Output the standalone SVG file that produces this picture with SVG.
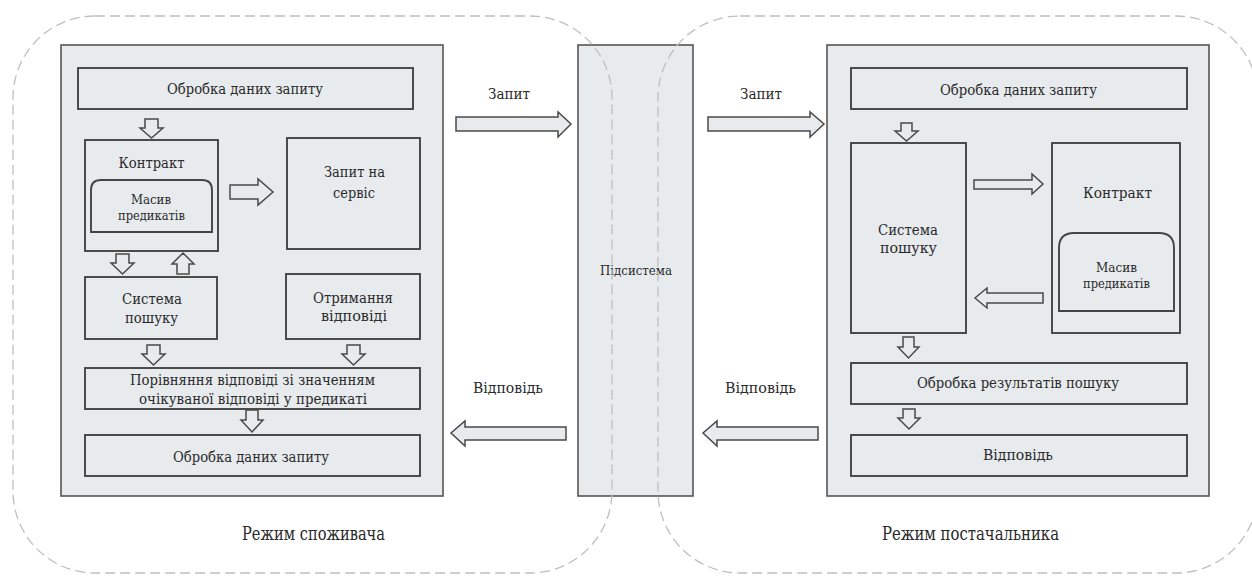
<svg xmlns="http://www.w3.org/2000/svg" width="1252" height="576" viewBox="0 0 1252 576" font-family="'DejaVu Serif', 'Liberation Serif', serif">
<style>
.panel{fill:#e8ebee;stroke:#555;stroke-width:1.6}
.box{fill:#e8ebee;stroke:#444;stroke-width:1.9}
.arr{fill:#e8ebee;stroke:#4a4a4a;stroke-width:1.5;stroke-linejoin:miter}
.region{fill:none;stroke:#bfbfbf;stroke-width:1.3;stroke-dasharray:10 5}
text{font-family:'DejaVu Serif','Liberation Serif',serif;fill:#2a2a2a;text-anchor:middle;font-size:15px}
.sm{font-size:13px}
.lg{font-size:18px}
</style>
<rect width="1252" height="576" fill="#ffffff"/>

<g id="consumer-panel">
<rect class="panel" x="61" y="45" width="382" height="451"/>
</g>
<g id="subsystem">
<rect class="panel" x="578" y="45" width="115" height="451"/>
<text class="sm" x="636" y="275" textLength="72" lengthAdjust="spacingAndGlyphs">Підсистема</text>
</g>
<g id="provider-panel">
<rect class="panel" x="827" y="45" width="382" height="451"/>
</g>

<g id="c-request-data">
<rect class="box" x="78" y="68" width="335" height="41"/>
<text x="245" y="94" textLength="156" lengthAdjust="spacingAndGlyphs">Обробка даних запиту</text>
</g>
<g id="c-contract">
<rect class="box" x="85" y="140" width="133" height="111"/>
<text x="151.5" y="168" textLength="66" lengthAdjust="spacingAndGlyphs">Контракт</text>
</g>
<g id="c-predicates">
<path class="box" d="M91,232 V190 Q91,180 101,180 H202 Q212,180 212,190 V232 Z"/>
<text class="sm" x="151" y="204" textLength="40" lengthAdjust="spacingAndGlyphs">Масив</text>
<text class="sm" x="151.5" y="220" textLength="67" lengthAdjust="spacingAndGlyphs">предикатів</text>
</g>
<g id="c-service-request">
<rect class="box" x="287" y="138" width="133" height="111"/>
<text x="354.5" y="177" textLength="61" lengthAdjust="spacingAndGlyphs">Запит на</text>
<text x="354" y="198" textLength="42" lengthAdjust="spacingAndGlyphs">сервіс</text>
</g>
<g id="c-search">
<rect class="box" x="85" y="277" width="132" height="62"/>
<text x="152" y="304" textLength="60" lengthAdjust="spacingAndGlyphs">Система</text>
<text x="151.5" y="323" textLength="53" lengthAdjust="spacingAndGlyphs">пошуку</text>
</g>
<g id="c-receive">
<rect class="box" x="286" y="274" width="134" height="65"/>
<text x="353" y="303" textLength="80" lengthAdjust="spacingAndGlyphs">Отримання</text>
<text x="354" y="321" textLength="66" lengthAdjust="spacingAndGlyphs">відповіді</text>
</g>
<g id="c-compare">
<rect class="box" x="85" y="368" width="335" height="41"/>
<text x="252.5" y="385" textLength="245" lengthAdjust="spacingAndGlyphs">Порівняння відповіді зі значенням</text>
<text x="253" y="404" textLength="228" lengthAdjust="spacingAndGlyphs">очікуваної відповіді у предикаті</text>
</g>
<g id="c-request-data-2">
<rect class="box" x="85" y="435" width="335" height="41"/>
<text x="251" y="462" textLength="156" lengthAdjust="spacingAndGlyphs">Обробка даних запиту</text>
</g>

<g id="p-request-data">
<rect class="box" x="851" y="68" width="336" height="41"/>
<text x="1018.5" y="95" textLength="157" lengthAdjust="spacingAndGlyphs">Обробка даних запиту</text>
</g>
<g id="p-search">
<rect class="box" x="851" y="143" width="115" height="190"/>
<text x="908" y="235" textLength="60" lengthAdjust="spacingAndGlyphs">Система</text>
<text x="908.5" y="253" textLength="57" lengthAdjust="spacingAndGlyphs">пошуку</text>
</g>
<g id="p-contract">
<rect class="box" x="1052" y="143" width="128" height="190"/>
<text x="1117.5" y="198" textLength="69" lengthAdjust="spacingAndGlyphs">Контракт</text>
</g>
<g id="p-predicates">
<path class="box" d="M1059,311 V248 Q1059,233 1074,233 H1159 Q1174,233 1174,248 V311 Z"/>
<text class="sm" x="1116.5" y="272" textLength="41" lengthAdjust="spacingAndGlyphs">Масив</text>
<text class="sm" x="1116.5" y="288" textLength="67" lengthAdjust="spacingAndGlyphs">предикатів</text>
</g>
<g id="p-results">
<rect class="box" x="851" y="363" width="336" height="41"/>
<text x="1018" y="388" textLength="202" lengthAdjust="spacingAndGlyphs">Обробка результатів пошуку</text>
</g>
<g id="p-response">
<rect class="box" x="851" y="435" width="336" height="41"/>
<text x="1018" y="460" textLength="70" lengthAdjust="spacingAndGlyphs">Відповідь</text>
</g>

<g id="connectors">
<polygon class="arr" points="456,117 558,117 558,112 571,124 558,137 558,131 456,131"/>
<polygon class="arr" points="708,117 810,117 810,112 824,124 810,137 810,131 708,131"/>
<polygon class="arr" points="566,427 465,427 465,421 451,433 465,446 465,440 566,440"/>
<polygon class="arr" points="818,427 717,427 717,421 703,433 717,446 717,440 818,440"/>
<polygon class="arr" points="230,185 258,185 258,179 273,192 258,205 258,199 230,199"/>
<polygon class="arr" points="145,119 158,119 158,128 163,128 151.5,138 140,128 145,128"/>
<polygon class="arr" points="116,254 129,254 129,263 134,263 122.5,274 111,263 116,263"/>
<polygon class="arr" points="177,274 189,274 189,264 194,264 183,253 172,264 177,264"/>
<polygon class="arr" points="147,345 160,345 160,354 165,354 153.5,365 142,354 147,354"/>
<polygon class="arr" points="347,345 360,345 360,354 365,354 353.5,365 342,354 347,354"/>
<polygon class="arr" points="246,410 258,410 258,420 263,420 252,432 241,420 246,420"/>
<polygon class="arr" points="901,123 912,123 912,131 918,131 906.5,141 895,131 901,131"/>
<polygon class="arr" points="903,337 914,337 914,347 919,347 908.5,358 898,347 903,347"/>
<polygon class="arr" points="903,409 915,409 915,418 920,418 909,429 898,418 903,418"/>
<polygon class="arr" points="974,180 1032,180 1032,174 1043,184 1032,194 1032,189 974,189"/>
<polygon class="arr" points="1043,293 987,293 987,288 975,298 987,308 987,303 1043,303"/>
<text x="509" y="99" textLength="42" lengthAdjust="spacingAndGlyphs">Запит</text>
<text x="761" y="99" textLength="42" lengthAdjust="spacingAndGlyphs">Запит</text>
<text x="508" y="393" textLength="70" lengthAdjust="spacingAndGlyphs">Відповідь</text>
<text x="760.5" y="393" textLength="71" lengthAdjust="spacingAndGlyphs">Відповідь</text>
</g>

<g id="consumer-mode">
<rect class="region" x="13" y="16" width="599" height="557" rx="82" ry="82"/>
<text class="lg" x="313.5" y="540" textLength="143" lengthAdjust="spacingAndGlyphs">Режим споживача</text>
</g>
<g id="provider-mode">
<rect class="region" x="658" y="16" width="600" height="557" rx="82" ry="82"/>
<text class="lg" x="970.5" y="540" textLength="177" lengthAdjust="spacingAndGlyphs">Режим постачальника</text>
</g>
</svg>
